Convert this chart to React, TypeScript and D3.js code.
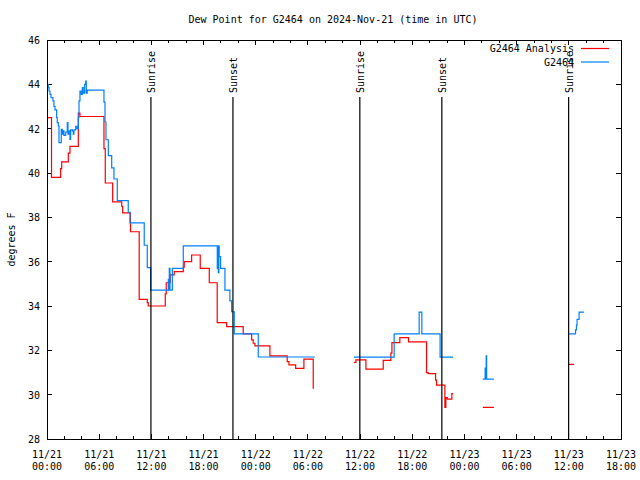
import React from "react";
import * as d3 from "d3";

// ---- data (hours since 2024-11-21 00:00 UTC; null value = gap) ----
const analysisHours = [
  0, 0.52, 1.57, 1.69, 2.45, 2.64, 3.6, 3.79, 6.55, 6.7, 7.55, 8.59, 8.7, 9.6, 10.6,
  11.53, 11.64, 13.6, 13.71, 14.17, 14.63, 15.67, 15.78, 16.63, 17.62, 18.66, 19.57,
  20.66, 22.56, 23.53, 23.71, 23.91, 25.63, 27.62, 27.82, 28.59, 29.54, 30.61, 30.69,
  30.7,
  35.29, 35.52, 36.67, 38.66, 39.54, 39.66, 40.57, 41.57, 43.64, 43.83, 44.68, 44.79,
  45.75, 45.86, 46.03, 46.55, 46.7,
  46.71,
  50.11, 51.38,
  51.39,
  59.92, 60.61,
];
const analysisValues: (number | null)[] = [
  42.5, 39.8, 40.2, 40.5, 40.9, 41.2, 42.7, 42.55, 41.1, 39.55, 38.7, 38.5, 38.2, 37.35, 34.3,
  34.15, 34.0, 34.55, 35.05, 35.4, 35.55, 35.75, 36.0, 36.3, 35.7, 35.05, 33.25,
  33.07, 32.74, 32.47, 32.32, 32.2, 31.75, 31.49, 31.34, 31.19, 31.6, 30.29, 30.29,
  null,
  31.46, 31.57, 31.15, 31.55, 31.87, 32.35, 32.57, 32.38, 30.99, 30.95, 30.66, 30.43,
  29.43, 29.87, 29.8, 30.05, 30.05,
  null,
  29.43, 29.43,
  null,
  31.37, 31.37,
];

const stationHours = [
  0, 0.15, 0.23, 0.34, 0.46, 0.69, 0.8, 0.92, 1.11, 1.18, 1.3, 1.38, 1.64, 1.76, 1.84,
  1.95, 2.15, 2.33, 2.41, 2.53, 2.64, 2.72, 2.91, 3.02, 3.1, 3.3, 3.45, 3.6, 3.68, 3.79,
  3.94, 4.06, 4.17, 4.33, 4.45, 4.52, 4.63, 6.55, 6.67, 6.78, 7.05, 7.44, 7.7, 8.08,
  9.34, 9.54, 11.18, 11.53, 11.92, 13.95, 14.0, 14.06, 14.14, 14.41, 15.67, 19.58,
  19.64, 19.7, 19.76, 19.8, 19.96, 20.46, 21.03, 21.23, 21.53, 24.29, 30.8,
  30.81,
  35.29, 39.92, 42.79, 43.1, 45.2, 46.7,
  46.71,
  50.11, 50.38, 50.42, 50.5, 50.55, 51.38,
  51.39,
  59.92, 60.77, 60.88, 60.95, 61.18, 61.76,
];
const stationValues: (number | null)[] = [
  44.0, 43.85, 43.7, 43.55, 43.4, 43.25, 43.0, 42.85, 42.5, 42.27, 42.12, 41.37, 41.97, 41.75, 41.9,
  41.7, 41.85, 42.27, 41.75, 41.9, 41.52, 41.95, 41.9, 41.75, 41.95, 42.1, 42.0, 42.5, 43.25, 43.7,
  43.55, 43.85, 43.6, 44.0, 44.15, 43.6, 43.74, 43.2, 42.3, 41.5, 40.78, 40.23, 39.73, 38.75,
  38.23, 37.75, 36.74, 35.73, 34.72, 35.2, 34.72, 35.7, 34.72, 35.7, 36.71, 35.7,
  36.71, 35.5, 36.7, 36.23, 35.7, 34.72, 34.23, 33.74, 32.74, 31.7, 31.7,
  null,
  31.69, 32.74, 33.72, 32.74, 31.69, 31.69,
  null,
  30.7, 31.2, 30.7, 31.75, 30.7, 30.7,
  null,
  32.74, 32.92, 33.14, 33.4, 33.72, 33.72,
];

const sunEventHours = [11.95, 21.38, 35.97, 45.4, 59.98];
const sunEventLabels = ["Sunrise", "Sunset", "Sunrise", "Sunset", "Sunrise"];
const yTicks = [28, 30, 32, 34, 36, 38, 40, 42, 44, 46];
const seriesNames = ["G2464 Analysis", "G2464"];
const seriesColors = ["#ff0000", "#0080ff"];
const titleText = "Dew Point for G2464 on 2024-Nov-21 (time in UTC)";
const yLabelText = "degrees F";

const T0 = Date.UTC(2024, 10, 21, 0, 0);
const hoursToDate = (h: number) => new Date(T0 + h * 3600 * 1000);

export default function App() {
  const W = 640, H = 480;
  const L = 47, R = 621, T = 40, B = 439;
  const font = "'DejaVu Sans Mono', monospace";

  const x = d3.scaleUtc().domain([hoursToDate(0), hoursToDate(66)]).range([L, R]);
  const y = d3.scaleLinear().domain([28, 46]).range([B, T]);

  const mk = (hrs: number[], vals: (number | null)[]) =>
    hrs.map((h, i) => ({ d: hoursToDate(h), v: vals[i] }));

  const line = d3
    .line<{ d: Date; v: number | null }>()
    .defined((p) => p.v !== null)
    .x((p) => x(p.d))
    .y((p) => y(p.v as number))
    .curve(d3.curveStepAfter);

  const redPath = line(mk(analysisHours, analysisValues)) || "";
  const bluePath = line(mk(stationHours, stationValues)) || "";

  const minorTicks = x.ticks(d3.utcHour.every(2) as any);
  const majorTicks = x.ticks(d3.utcHour.every(6) as any);
  const fmtDate = d3.utcFormat("%m/%d");
  const fmtTime = d3.utcFormat("%H:%M");

  return (
    <svg
      width={W}
      height={H}
      style={{ position: "absolute", left: 0, top: 0, background: "#fff" }}
      fontFamily={font}
      fontSize={10}
    >
      <rect x={0} y={0} width={W} height={H} fill="#fff" />
      {/* title */}
      <text x={333} y={23} textAnchor="middle" fill="#000">
        {titleText}
      </text>
      {/* y label */}
      <text
        transform={`translate(15,${(T + B) / 2}) rotate(-90)`}
        textAnchor="middle"
        fill="#000"
      >
        {yLabelText}
      </text>

      {/* y ticks */}
      {yTicks.map((t) => (
        <g key={"y" + t}>
          <line x1={L} x2={L + 5} y1={y(t)} y2={y(t)} stroke="#000" shapeRendering="crispEdges" />
          <line x1={R} x2={R - 5} y1={y(t)} y2={y(t)} stroke="#000" shapeRendering="crispEdges" />
          <text x={L - 7} y={y(t) + 4} textAnchor="end" fill="#000">
            {t}
          </text>
        </g>
      ))}

      {/* x ticks */}
      {minorTicks.map((t, i) => (
        <g key={"mx" + i}>
          <line x1={x(t)} x2={x(t)} y1={B} y2={B - 3} stroke="#000" shapeRendering="crispEdges" />
          <line x1={x(t)} x2={x(t)} y1={T} y2={T + 3} stroke="#000" shapeRendering="crispEdges" />
        </g>
      ))}
      {majorTicks.map((t, i) => (
        <g key={"Mx" + i}>
          <line x1={x(t)} x2={x(t)} y1={B} y2={B - 5} stroke="#000" shapeRendering="crispEdges" />
          <line x1={x(t)} x2={x(t)} y1={T} y2={T + 5} stroke="#000" shapeRendering="crispEdges" />
          <text x={x(t)} y={458} textAnchor="middle" fill="#000">
            {fmtDate(t)}
          </text>
          <text x={x(t)} y={470} textAnchor="middle" fill="#000">
            {fmtTime(t)}
          </text>
        </g>
      ))}

      {/* data */}
      <path d={redPath} fill="none" stroke={seriesColors[0]} strokeWidth={1.2} />
      <path d={bluePath} fill="none" stroke={seriesColors[1]} strokeWidth={1.2} />

      {/* sunrise / sunset */}
      {sunEventHours.map((h, i) => {
        const xx = x(hoursToDate(h));
        return (
          <g key={"sun" + i}>
            <line x1={xx} x2={xx} y1={97} y2={B} stroke="#000" strokeWidth={1.2} />
            <text
              transform={`translate(${xx + 4},93) rotate(-90)`}
              textAnchor="start"
              fill="#000"
            >
              {sunEventLabels[i]}
            </text>
          </g>
        );
      })}

      {/* legend */}
      {seriesNames.map((n, i) => (
        <g key={"lg" + i}>
          <text x={574} y={52 + i * 13.5} textAnchor="end" fill="#000">
            {n}
          </text>
          <line
            x1={581}
            x2={609}
            y1={48.5 + i * 13.5}
            y2={48.5 + i * 13.5}
            stroke={seriesColors[i]}
            strokeWidth={1.2}
          />
        </g>
      ))}

      {/* border */}
      <rect x={L} y={T} width={R - L} height={B - T} fill="none" stroke="#000" shapeRendering="crispEdges" />
    </svg>
  );
}
